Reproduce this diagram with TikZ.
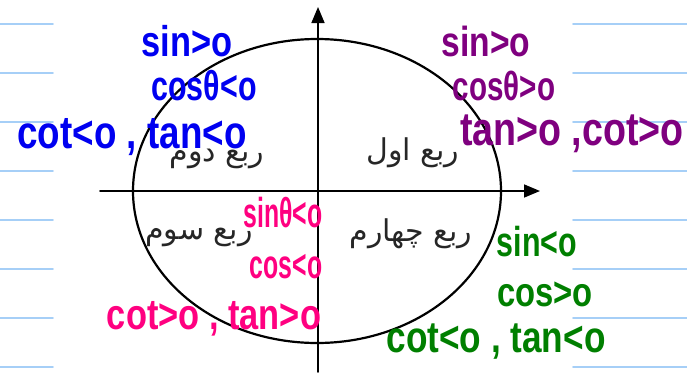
\documentclass[tikz,border=0pt]{standalone}
\usepackage{fontspec}
\setmainfont{Liberation Sans}
\newfontfamily\arabicfont[Script=Arabic]{DejaVu Sans}
\TeXXeTstate=1
\usetikzlibrary{arrows.meta}
\definecolor{notebook}{HTML}{A6CFF7}
\definecolor{qblue}{HTML}{0000F0}
\definecolor{qpurple}{HTML}{7F007F}
\definecolor{qpink}{HTML}{FF0080}
\definecolor{qgreen}{HTML}{007F00}
\newcommand\hw[3][1]{\scalebox{.8}[#1]{\fontsize{#2}{#2}\selectfont\bfseries #3}}
\tikzset{
  rub/.style={font=\arabicfont\fontsize{30}{33}\selectfont, text=black!85, inner sep=0pt},
  hand/.style={inner sep=0pt},
  ruled/.style={notebook, line width=1.6pt},
  axis/.style={line width=1.6pt, -{Triangle[length=16pt,width=13pt]}}
}
\begin{document}
\begin{tikzpicture}[x=1pt, y=-1pt, line join=round, line cap=round]
\useasboundingbox (0,0) rectangle (687,372);
% notebook lines
\foreach \y in {24,73,...,367} {
  \draw[ruled] (0,\y)--(53,\y);
  \draw[ruled] (573,\y)--(687,\y);
}
% circle and axes
\draw[line width=2.2pt] (317,191) ellipse [x radius=184pt, y radius=152pt];
\draw[axis] (100,191)--(540,191);
\draw[axis] (318,372)--(318,7);
% quadrant names
\node[rub] (q1) at (413,153) {\beginR ربع اول\endR};
\node[rub] (q2) at (217,159) {\beginR ربع دوم\endR};
\node[rub] (q3) at (199,237) {\beginR ربع سوم\endR};
\node[rub] (q4) at (411,234) {\beginR ربع چهارم\endR};
% second quadrant
\node[hand, qblue] (s2) at (187,41) {\hw{43}{sin>o}};
\node[hand, qblue] (c2) at (204,86) {\hw[1.1]{38}{cosθ<o}};
\node[hand, qblue] (t2) at (132,137) {\hw{46}{cot<o , tan<o}};
% first quadrant
\node[hand, qpurple] (s1) at (486,41) {\hw{42}{sin>o}};
\node[hand, qpurple] (c1) at (504,86) {\hw[1.1]{37}{cosθ>o}};
\node[hand, qpurple, anchor=west] (t1) at (460,134) {\hw{47}{tan>o ,cot>o}};
% third quadrant
\node[hand, qpink] (s3) at (283,213) {\hw[1.35]{31}{sinθ<o}};
\node[hand, qpink] (c3) at (286,267) {\hw[1.3]{31}{cos<o}};
\node[hand, qpink] (t3) at (214,319) {\hw{43}{cot>o , tan>o}};
% fourth quadrant
\node[hand, qgreen] (s4) at (537,242) {\hw[1.1]{38}{sin<o}};
\node[hand, qgreen] (c4) at (545,294) {\hw{41}{cos>o}};
\node[hand, qgreen] (t4) at (496,342) {\hw{44}{cot<o , tan<o}};
\end{tikzpicture}
\end{document}
